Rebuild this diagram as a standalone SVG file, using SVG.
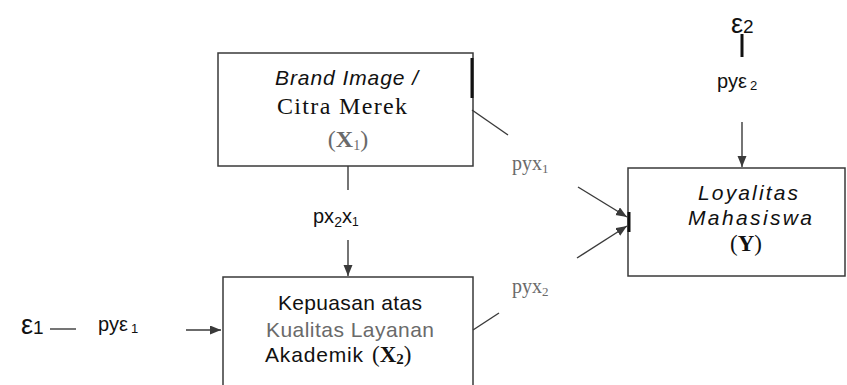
<svg xmlns="http://www.w3.org/2000/svg" width="847" height="385" viewBox="0 0 847 385">
<style>
.box{fill:none;stroke:#3a3a3a;stroke-width:1.5}
.ln{fill:none;stroke:#3a3a3a;stroke-width:1.4}
.thick{stroke:#111;stroke-width:3}
.sans{font-family:"Liberation Sans",Arial,sans-serif;fill:#111}
.serif{font-family:"Liberation Serif","Times New Roman",serif;fill:#111}
.grey{fill:#6a6a6a}
.c{text-anchor:middle}
</style>
<defs>
<marker id="ah" markerUnits="userSpaceOnUse" markerWidth="12" markerHeight="10" refX="11" refY="4.5" orient="auto">
<path d="M0,0 L11,4.5 L0,9 z" fill="#3a3a3a"/>
</marker>
</defs>
<rect width="847" height="385" fill="#fff"/>
<g id="connectors">
<line class="ln" x1="348" y1="166" x2="348" y2="190"/>
<line class="ln" x1="348" y1="240" x2="348" y2="276" marker-end="url(#ah)"/>
<line class="ln" x1="742" y1="122" x2="742" y2="167" marker-end="url(#ah)"/>
<line class="thick" x1="742" y1="34" x2="742" y2="57"/>
<line class="ln" x1="472" y1="110" x2="508" y2="135"/>
<line class="ln" x1="578" y1="187" x2="627" y2="217" marker-end="url(#ah)"/>
<line class="ln" x1="577" y1="258" x2="627" y2="226" marker-end="url(#ah)"/>
<line class="ln" x1="473" y1="330" x2="499" y2="313"/>
<line class="ln" x1="50" y1="329" x2="76" y2="329"/>
<line class="ln" x1="186" y1="330" x2="221" y2="330" marker-end="url(#ah)"/>
<text class="sans" x="313" y="223" font-size="20">px<tspan font-size="14" dy="4">2</tspan><tspan dy="-4">x</tspan><tspan font-size="12" dy="3">1</tspan></text>
<text class="serif grey" x="512" y="170" font-size="20">pyx<tspan font-size="13" dy="3">1</tspan></text>
<text class="serif grey" x="512" y="293" font-size="20">pyx<tspan font-size="13" dy="3">2</tspan></text>
<text class="sans" x="717" y="88" font-size="20">pyε<tspan font-size="13" dx="3" dy="2">2</tspan></text>
<text class="sans" x="98" y="331" font-size="20">pyε<tspan font-size="13" dx="3" dy="2">1</tspan></text>
</g>
<g id="eps1">
<text class="sans" x="21" y="334" font-size="27">ε<tspan font-size="19">1</tspan></text>
</g>
<g id="eps2">
<text class="sans" x="731" y="33" font-size="27">ε<tspan font-size="19">2</tspan></text>
</g>
<g id="X1">
<rect class="box" x="218" y="53" width="255" height="113"/>
<line class="thick" x1="472" y1="58" x2="472" y2="98"/>
<text class="sans" x="275" y="85" font-size="21" font-style="italic" textLength="143" lengthAdjust="spacing">Brand Image /</text>
<text class="serif" x="277" y="114" font-size="24" textLength="130" lengthAdjust="spacing">Citra Merek</text>
<text class="serif c grey" x="348" y="147" font-size="24">(<tspan font-weight="bold">X</tspan><tspan font-size="14" dy="3">1</tspan><tspan dy="-3">)</tspan></text>
</g>
<g id="X2">
<path class="box" d="M223,385 V277 H473 V385"/>
<text class="sans" x="278" y="310" font-size="21" textLength="144" lengthAdjust="spacing">Kepuasan atas</text>
<text class="sans grey" x="266" y="337" font-size="21" textLength="168" lengthAdjust="spacing">Kualitas Layanan</text>
<text class="sans" x="265" y="362" font-size="21" textLength="98" lengthAdjust="spacing">Akademik</text>
<text class="serif" x="372" y="362" font-size="23">(<tspan font-weight="bold">X</tspan><tspan font-size="15" dy="2" font-weight="bold">2</tspan><tspan dy="-2">)</tspan></text>
</g>
<g id="Y">
<rect class="box" x="628" y="168" width="217" height="108"/>
<line class="thick" x1="629" y1="212" x2="629" y2="232"/>
<text class="sans" x="698" y="200" font-size="21" font-style="italic" textLength="100" lengthAdjust="spacing">Loyalitas</text>
<text class="sans" x="688" y="225" font-size="21" font-style="italic" textLength="124" lengthAdjust="spacing">Mahasiswa</text>
<text class="serif c" x="746" y="251" font-size="23" fill="#333">(<tspan font-weight="bold">Y</tspan>)</text>
</g>
</svg>
